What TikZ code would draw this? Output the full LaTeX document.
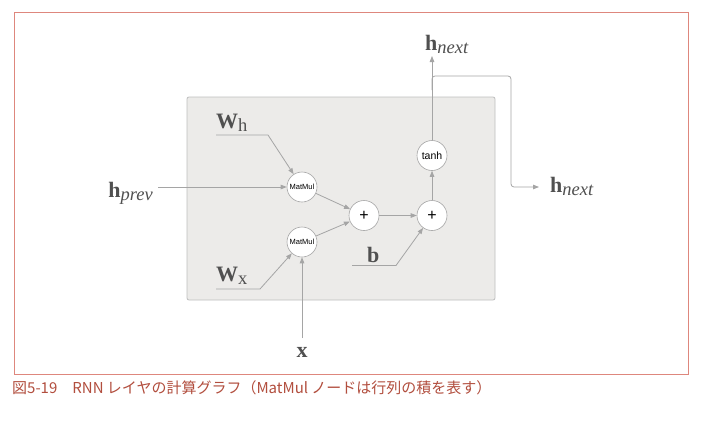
\documentclass[tikz,border=0pt]{standalone}
\usepackage{fontspec}
\usetikzlibrary{arrows.meta}
\newfontfamily\jpfont{Noto Sans CJK JP}
\newfontfamily\labfont{Liberation Serif}
\newfontfamily\hvfont{Liberation Sans}
\definecolor{framered}{RGB}{222,135,125}
\definecolor{captred}{RGB}{178,78,62}
\definecolor{boxfill}{RGB}{236,235,233}
\definecolor{boxline}{RGB}{190,190,190}
\definecolor{linegray}{RGB}{165,165,165}
\definecolor{labgray}{RGB}{80,80,80}
\newcommand{\mylab}[3]{{\labfont\fontsize{22}{22}\selectfont\bfseries #1}{\labfont\fontsize{18.5}{18.5}\selectfont#3\raisebox{-3pt}{#2}}}
\tikzset{
  opnode/.style={circle,draw=linegray,fill=white,minimum size=30pt,inner sep=0pt,line width=0.6pt},
  conn/.style={draw=linegray,line width=0.8pt,-{Triangle[length=6pt,width=4.5pt]}},
  lab/.style={inner sep=0pt,text=labgray}
}
\begin{document}
\begin{tikzpicture}[x=1pt,y=-1pt]
\useasboundingbox (0,0) rectangle (708,420);
\fill[white] (0,0) rectangle (708,420);
\draw[framered,line width=0.8pt] (14,12) rectangle (688,374);
\draw[boxline,fill=boxfill,rounded corners=2pt,line width=0.8pt] (187,97) rectangle (495,300);
% operation nodes
\node[opnode] (mm1) at (302,187) {\hvfont\fontsize{7.5}{8}\selectfont MatMul};
\node[opnode] (mm2) at (302,242) {\hvfont\fontsize{7.5}{8}\selectfont MatMul};
\node[opnode] (p1) at (364,215.5) {\hvfont\fontsize{16}{16}\selectfont +};
\node[opnode] (p2) at (432,215.5) {\hvfont\fontsize{16}{16}\selectfont +};
\node[opnode] (th) at (432,155.5) {\hvfont\fontsize{10.5}{11}\selectfont tanh};
% labels
\node[lab,anchor=base west] (wh) at (216,128) {\mylab{W}{h}{\mdseries}};
\node[lab,anchor=base west] (wx) at (216,281) {\mylab{W}{x}{\mdseries}};
\node[lab,anchor=base west] (bb) at (367,262) {{\labfont\fontsize{22}{22}\selectfont\bfseries b}};
\node[lab,anchor=base east] (hp) at (153,197) {\mylab{h}{prev}{\itshape}};
\node[lab,anchor=base] (xx) at (302,357) {{\labfont\fontsize{22}{22}\selectfont\bfseries x}};
\node[lab,anchor=base west] (hn1) at (425,50) {\mylab{h}{next}{\itshape}};
\node[lab,anchor=base west] (hn2) at (550,192) {\mylab{h}{next}{\itshape}};
% coordinates
\coordinate (wh0) at (216,135);
\coordinate (wh1) at (268,135);
\coordinate (wx0) at (216,289);
\coordinate (wx1) at (260,289);
\coordinate (b0) at (352,265.5);
\coordinate (b1) at (396,265.5);
\coordinate (hp0) at (158,187);
\coordinate (x0) at (302,338);
\coordinate (top) at (432,56);
\coordinate (br0) at (432,90);
\coordinate (br1) at (432,76);
\coordinate (br2) at (511,76);
\coordinate (br3) at (511,187);
\coordinate (br4) at (539,187);
% connectors
\draw[conn] (wh0) -- (wh1) -- (mm1);
\draw[conn] (wx0) -- (wx1) -- (mm2);
\draw[conn] (b0) -- (b1) -- (p2);
\draw[conn] (hp0) -- (mm1);
\draw[conn] (x0) -- (mm2);
\draw[conn] (mm1) -- (p1);
\draw[conn] (mm2) -- (p1);
\draw[conn] (p1) -- (p2);
\draw[conn] (p2) -- (th);
\draw[conn] (th) -- (top);
\draw[conn,rounded corners=3pt] (br0) -- (br1) -- (br2) -- (br3) -- (br4);
% caption
\node[anchor=west,inner sep=0pt,text=captred] (cap) at (12,388) {\jpfont\fontsize{15}{15}\selectfont 図5-19　RNN レイヤの計算グラフ（MatMul ノードは行列の積を表す）};
\end{tikzpicture}
\end{document}
